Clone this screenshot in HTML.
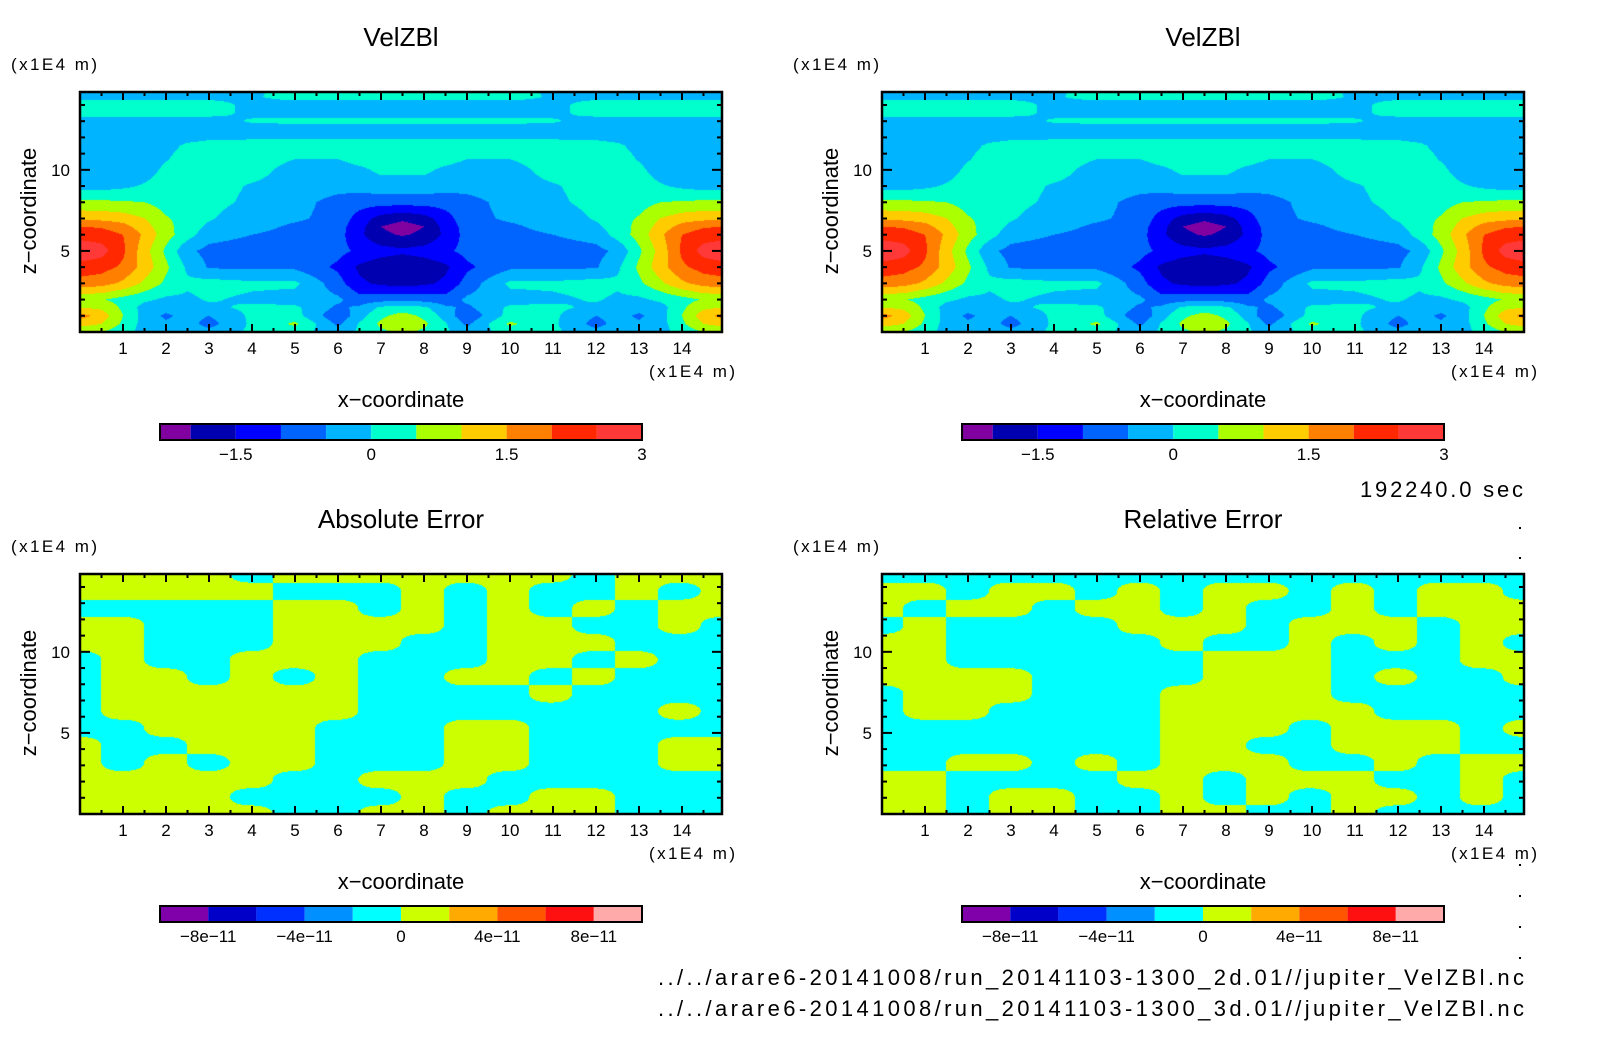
<!DOCTYPE html>
<html><head><meta charset="utf-8"><style>
html,body{margin:0;padding:0;background:#fff;}
#wrap{position:relative;width:1604px;height:1054px;overflow:hidden;background:#fff;}
canvas{position:absolute;}
svg{position:absolute;left:0;top:0;}
text{font-family:"Liberation Sans",sans-serif;fill:#000;}
</style></head><body>
<div id="wrap">
<canvas id="c0" width="642" height="240" style="left:80px;top:92px"></canvas>
<canvas id="c1" width="642" height="240" style="left:882px;top:92px"></canvas>
<canvas id="c2" width="642" height="240" style="left:80px;top:574px"></canvas>
<canvas id="c3" width="642" height="240" style="left:882px;top:574px"></canvas>
<svg id="s" width="1604" height="1054"></svg>
</div>
<script>
// ---- data ----
const velXHalf=[0,0.5,1,1.5,2,2.5,3,4,5,6,6.5,7,7.5];
const velZ=[0,0.5,1,1.5,2,3,4,5,6,6.5,7,8,9,10,11,11.5,12,12.5,13,13.5,14,14.5,15];
const velRows=[
[.6,.5,.2,-.2,-.2,-.1,-.3,.1,.2,-.3,.1,.4,.6],
[1.2,1.0,.4,-.2,-.4,-.3,-.7,.1,.6,-.6,.05,.6,.9],
[1.7,1.3,.5,-.2,-.6,-.3,-.5,.1,.2,-.9,-.2,.4,.7],
[1.0,.9,.4,-.2,-.3,-.2,-.1,.1,.1,-.6,-.4,.1,.2],
[.6,.55,.3,.1,-.1,-.1,.05,-.1,-.2,-.4,-.8,-.7,-.6],
[1.8,1.7,1.4,.9,.4,.1,.2,.1,.1,-.8,-1.4,-1.6,-1.7],
[2.3,2.2,1.9,1.3,.6,-.1,-.55,-.6,-.6,-1.1,-1.6,-1.8,-1.9],
[2.9,2.7,2.1,1.2,.4,-.4,-.65,-.75,-.7,-.85,-1.1,-1.3,-1.4],
[2.3,2.25,2.0,1.4,.7,.2,-.3,-.5,-.7,-.8,-1.4,-1.9,-2.05],
[2.0,1.95,1.7,1.2,.65,.25,-.1,-.3,-.6,-.8,-1.3,-2.0,-2.2],
[1.4,1.35,1.25,1.0,.55,.3,.05,-.3,-.4,-.7,-1.2,-1.7,-1.9],
[.6,.6,.55,.5,.3,.2,.15,-.1,-.3,-.7,-.8,-.8,-.8],
[-.2,-.2,-.1,.05,.2,.3,.2,-.05,-.2,-.3,-.3,-.2,-.2],
[-.3,-.3,-.3,-.2,.1,.2,.3,.2,-.2,-.2,-.1,.1,.1],
[-.3,-.3,-.3,-.3,-.1,.2,.3,.3,.1,.1,.3,.3,.3],
[-.3,-.3,-.3,-.3,-.2,.1,.2,.3,.3,.3,.3,.3,.3],
[-.3,-.3,-.3,-.3,-.3,-.2,-.1,-.1,-.1,-.1,-.1,-.1,-.1],
[-.3,-.3,-.3,-.3,-.3,-.3,-.2,-.2,-.2,-.2,-.2,-.2,-.2],
[-.2,-.2,-.2,-.2,-.2,-.2,-.2,.05,.1,.1,.1,.1,.1],
[.2,.2,.2,.2,.2,.2,.15,-.1,-.2,-.2,-.2,-.2,-.2],
[.2,.2,.2,.2,.2,.2,.15,-.1,-.2,-.2,-.2,-.2,-.2],
[-.1,-.1,-.1,-.1,-.1,-.1,-.1,-.05,.15,.15,.15,.15,.15],
[-.2,-.2,-.2,-.2,-.2,-.2,-.2,-.1,.2,.2,.2,.2,.2]
];
const velLevels=[-2,-1.5,-1,-0.5,0,0.5,1,1.5,2,2.5];
const velColors=["#8000a0","#0000b0","#0000ff","#0064ff","#00b4ff","#00ffcc","#aaff00","#ffcc00","#ff8000","#ff2800","#ff3838"];
const velTickLabels=["\u22121.5","0","1.5","3"];
const velTickValues=[-1.5,0,1.5,3];
const velBarMin=-2.34, velBarMax=3;

// error fields: rows top (z high) to bottom (z=0); 1 = positive, -1 = negative
const absRows=[
[1,1,1,1,-1,1,1,1,1,1,1,1,-1,1,1,1],
[1,1,1,1,1,-1,-1,-1,1,-1,1,-1,-1,1,-1,1],
[-1,-1,-1,-1,-1,1,1,-1,1,-1,1,-1,1,-1,1,1],
[1,1,-1,-1,-1,1,1,1,1,-1,1,1,-1,-1,1,-1],
[1,1,-1,-1,-1,1,1,1,-1,-1,1,1,1,-1,-1,-1],
[-1,1,-1,-1,1,1,1,-1,-1,-1,1,1,-1,1,-1,-1],
[-1,1,1,-1,1,-1,1,-1,-1,1,1,-1,1,-1,-1,-1],
[-1,1,1,1,1,1,1,-1,-1,-1,-1,1,-1,-1,-1,-1],
[-1,1,1,1,1,1,1,-1,-1,-1,-1,-1,-1,-1,1,-1],
[-1,-1,1,1,1,1,-1,-1,-1,1,1,-1,-1,-1,-1,-1],
[1,-1,-1,1,1,1,-1,-1,-1,1,1,-1,-1,-1,1,1],
[1,-1,1,-1,1,1,-1,-1,-1,1,1,-1,-1,-1,1,1],
[1,1,1,1,1,-1,-1,1,1,1,-1,-1,-1,-1,-1,-1],
[1,1,1,1,-1,-1,-1,-1,1,-1,-1,1,1,-1,-1,-1],
[1,1,1,1,1,-1,-1,1,1,-1,1,1,1,-1,-1,-1]
];
const relRows=[
[-1,-1,-1,-1,-1,-1,-1,-1,-1,-1,-1,-1,-1,-1,-1,-1],
[1,1,-1,1,1,-1,1,-1,1,1,-1,1,-1,1,1,-1],
[1,-1,1,1,-1,1,1,-1,1,-1,-1,1,-1,1,1,1],
[-1,1,-1,-1,-1,-1,1,1,1,-1,1,1,1,-1,1,1],
[1,1,-1,-1,-1,-1,-1,1,-1,-1,1,-1,1,-1,1,-1],
[1,1,-1,-1,-1,-1,-1,-1,1,1,1,-1,-1,-1,1,1],
[1,1,1,1,-1,-1,-1,-1,1,1,1,-1,1,-1,-1,1],
[-1,1,1,1,-1,-1,-1,1,1,1,1,-1,-1,-1,-1,-1],
[-1,1,1,-1,-1,-1,-1,1,1,1,1,1,-1,-1,-1,-1],
[-1,-1,-1,-1,-1,-1,-1,1,1,1,-1,1,1,1,-1,1],
[-1,-1,-1,-1,-1,-1,-1,1,1,-1,-1,1,1,1,-1,-1],
[-1,-1,1,1,-1,1,-1,1,1,1,-1,-1,1,-1,1,1],
[1,1,-1,-1,-1,-1,1,1,-1,1,1,1,-1,-1,1,-1],
[1,1,-1,1,1,-1,-1,1,-1,1,-1,1,1,-1,1,-1],
[1,1,-1,1,1,-1,-1,1,1,-1,-1,1,-1,-1,-1,-1]
];
const errColors=["#8000aa","#0000c8","#0030ff","#0090ff","#00ffff","#ccff00","#ffaa00","#ff5500","#ff1010","#ffaaaa"];
const errTickLabels=["\u22128e\u221211","\u22124e\u221211","0","4e\u221211","8e\u221211"];
const errTickIdx=[1,3,5,7,9];
const xTickLabels=["1","2","3","4","5","6","7","8","9","10","11","12","13","14"];
const zTickLabels=["5","10"];

// ---- axis ----
const XMAX=14.93, ZMAX=14.8, PW=642, PH=240;
function sx(x){return x/XMAX*PW;}
function sz(z){return PH - z/ZMAX*PH;}

function findIdx(arr,v){let i=0;while(i<arr.length-2&&arr[i+1]<v)i++;return i;}
const velX=velXHalf.concat(velXHalf.slice(0,-1).reverse().map(v=>15-v));
const velGrid=velRows.map(r=>r.concat(r.slice(0,-1).reverse()));
function velAt(x,z){
  const i=findIdx(velX,x), j=findIdx(velZ,z);
  let tx=(x-velX[i])/(velX[i+1]-velX[i]); let tz=(z-velZ[j])/(velZ[j+1]-velZ[j]);
  tx=Math.max(0,Math.min(1,tx)); tz=Math.max(0,Math.min(1,tz));
  const a=velGrid[j][i],b=velGrid[j][i+1],c=velGrid[j+1][i],d=velGrid[j+1][i+1];
  return (a*(1-tx)+b*tx)*(1-tz)+(c*(1-tx)+d*tx)*tz;
}
function hex(h){return [parseInt(h.substr(1,2),16),parseInt(h.substr(3,2),16),parseInt(h.substr(5,2),16)];}
function drawVel(id){
  const cv=document.getElementById(id),ctx=cv.getContext('2d');
  const img=ctx.createImageData(PW,PH);const cols=velColors.map(hex);
  for(let py=0;py<PH;py++)for(let px=0;px<PW;px++){
    const x=(px+0.5)/PW*XMAX, z=(PH-py-0.5)/PH*ZMAX;
    const v=velAt(x,z); let k=0; while(k<velLevels.length&&v>=velLevels[k])k++;
    const c=cols[k],o=(py*PW+px)*4; img.data[o]=c[0];img.data[o+1]=c[1];img.data[o+2]=c[2];img.data[o+3]=255;
  }
  ctx.putImageData(img,0,0);
}
function sm(t){return t*t*(3-2*t);}
function drawErr(id,rows){
  const cv=document.getElementById(id),ctx=cv.getContext('2d');
  const img=ctx.createImageData(PW,PH);
  const pos=hex(errColors[5]),neg=hex(errColors[4]);
  const nc=rows[0].length-1,nr=rows.length-1;
  for(let py=0;py<PH;py++)for(let px=0;px<PW;px++){
    const gx=(px+0.5)/PW*nc, gy=(py+0.5)/PH*nr;
    const i=Math.min(nc-1,Math.floor(gx)), j=Math.min(nr-1,Math.floor(gy));
    const tx=sm(gx-i),ty=sm(gy-j);
    const v=(rows[j][i]*(1-tx)+rows[j][i+1]*tx)*(1-ty)+(rows[j+1][i]*(1-tx)+rows[j+1][i+1]*tx)*ty;
    const c=v>=0?pos:neg,o=(py*PW+px)*4; img.data[o]=c[0];img.data[o+1]=c[1];img.data[o+2]=c[2];img.data[o+3]=255;
  }
  ctx.putImageData(img,0,0);
}
drawVel('c0');drawVel('c1');drawErr('c2',absRows);drawErr('c3',relRows);

// ---- svg ----
const NS="http://www.w3.org/2000/svg", svg=document.getElementById('s');
function el(tag,attrs,parent){const e=document.createElementNS(NS,tag);for(const k in attrs)e.setAttribute(k,attrs[k]);(parent||svg).appendChild(e);return e;}
function txt(s,x,y,size,anchor,parent){const t=el('text',{x:x,y:y,'font-size':size,'text-anchor':anchor||'middle'},parent);t.textContent=s;return t;}

const panels=[
 {L:80,T:92,title:"VelZBl",ux:11,kind:"vel",name:"top-left"},
 {L:882,T:92,title:"VelZBl",ux:793,kind:"vel",name:"top-right"},
 {L:80,T:574,title:"Absolute Error",ux:11,kind:"err",name:"bottom-left"},
 {L:882,T:574,title:"Relative Error",ux:793,kind:"err",name:"bottom-right"}
];
panels.forEach(p=>{
  const g=el('g',{});
  
  
  const L=p.L,T=p.T;
  const t=txt(p.title,L+PW/2,T-46,26,'middle',g);
  
  const u=txt("(x1E4 m)",p.ux,T-22,17,'start',g);
  u.setAttribute('textLength',86);
  
  const tk=el('g',{stroke:'#000','stroke-width':2},g);
  
  for(let h=1;h<=29;h++){const x=L+sx(h/2);const len=h%2===0?8:4;
    el('line',{x1:x,y1:T+PH,x2:x,y2:T+PH-len},tk);el('line',{x1:x,y1:T,x2:x,y2:T+len},tk);}
  for(let z=1;z<=14;z++){const y=T+sz(z);const len=z%5===0?10:5;
    el('line',{x1:L,y1:y,x2:L+len,y2:y},tk);el('line',{x1:L+PW,y1:y,x2:L+PW-len,y2:y},tk);}
  xTickLabels.forEach((s,i)=>{const l=txt(s,L+sx(i+1),T+262,17,'middle',g);
    });
  zTickLabels.forEach((s,i)=>{const l=txt(s,L-10,T+sz((i+1)*5)+6,17,'end',g);
    });
  const xu=txt("(x1E4 m)",L+569,T+285,17,'start',g);
  xu.setAttribute('textLength',86);
  
  const xt=txt("x\u2212coordinate",L+PW/2,T+315,22,'middle',g);
  
  const zt=txt("z\u2212coordinate",0,0,22,'middle',g);
  zt.setAttribute('transform','translate('+(L-44)+','+(T+119)+') rotate(-90)');
  
  el('rect',{x:L,y:T,width:PW,height:PH,fill:'none',stroke:'#000','stroke-width':2.5},g);
  const cb=el('g',{},g);
  
  const bx=L+80,bw=482,by=T+332,bh=16;
  if(p.kind==="vel"){
    const vx=v=>bx+(v-velBarMin)/(velBarMax-velBarMin)*bw;
    const edges=[velBarMin].concat(velLevels,[velBarMax]);
    velColors.forEach((c,i)=>{const r=el('rect',{x:vx(edges[i]),y:by,width:vx(edges[i+1])-vx(edges[i]),height:bh,fill:c},cb);
      });
    velTickLabels.forEach((s,i)=>{const l=txt(s,vx(velTickValues[i]),by+bh+20,17,'middle',cb);
      });
  } else {
    const w=bw/errColors.length;
    errColors.forEach((c,i)=>{const r=el('rect',{x:bx+i*w,y:by,width:w,height:bh,fill:c},cb);
      });
    errTickLabels.forEach((s,i)=>{const l=txt(s,bx+errTickIdx[i]*w,by+bh+20,17,'middle',cb);
      });
  }
  el('rect',{x:bx,y:by,width:bw,height:bh,fill:'none',stroke:'#000','stroke-width':2},cb);
});
const tm=txt("192240.0 sec",1523,497,22,'end');
tm.setAttribute('textLength',163);


[527,557,864,895,926,957].forEach(y=>{const d=el('rect',{x:1519,y:y,width:2,height:2,fill:'#000'});
  });
const f1=txt("../../arare6-20141008/run_20141103-1300_2d.01//jupiter_VelZBl.nc",1524,985,22,'end');
f1.setAttribute('textLength',866);


const f2=txt("../../arare6-20141008/run_20141103-1300_3d.01//jupiter_VelZBl.nc",1524,1016,22,'end');
f2.setAttribute('textLength',866);


</script>
</body></html>
